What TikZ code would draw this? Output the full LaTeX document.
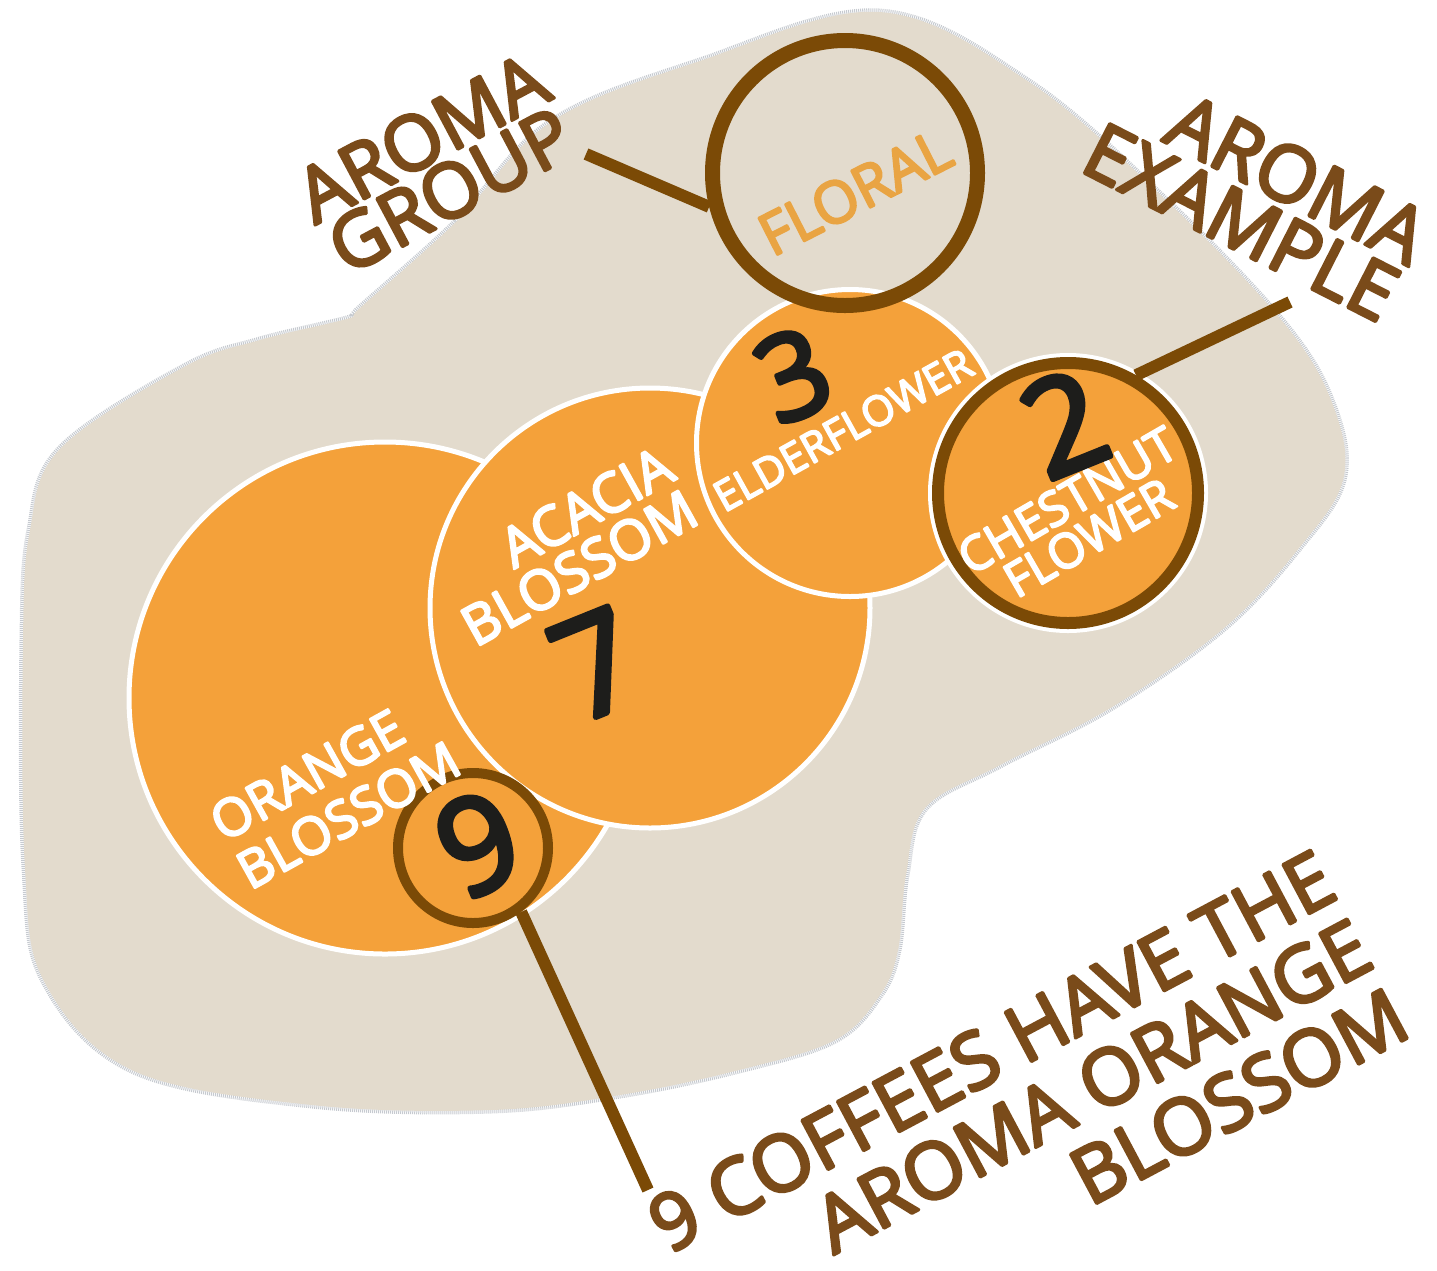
\documentclass[tikz,border=0pt]{standalone}
\usepackage{fontspec}
\setmainfont{Open Sans}[BoldFont = {Open Sans}, BoldFeatures = {FakeBold = 4}]
\usepackage{tikz}

\definecolor{sandbg}{HTML}{E3DBCD}
\definecolor{shadowgrey}{HTML}{C6CAD0}
\definecolor{blossom}{HTML}{F4A13A}
\definecolor{ringbrown}{HTML}{7B4A06}
\definecolor{labelbrown}{HTML}{7A4B1A}
\definecolor{floraltext}{HTML}{E9A443}
\definecolor{digitblack}{HTML}{1D1D1B}

\begin{document}
\begin{tikzpicture}[
        x = 1pt, y = -1pt, % one unit = one pixel of the reference
        line join = round
        ]

    \tikzset{
        sandblob/.style = {fill = sandbg, preaction = {draw = shadowgrey, line width = 7pt, dash pattern = on 1pt off 1pt}},
        bubble/.style = {circle, draw = white, line width = 5pt, fill = blossom, inner sep = 0pt},
        ring/.style = {circle, draw = ringbrown, line width = 14pt, inner sep = 0pt},
        leader/.style = {draw = ringbrown, line width = 12pt},
        caption/.style = {text = labelbrown, inner sep = 0pt},
        flowername/.style = {text = white, inner sep = 0pt},
        count/.style = {text = digitblack, inner sep = 0pt, rotate = 22}
        }

    \useasboundingbox (0,0) rectangle (1437,1270);

    % background patch
    \path[sandblob] plot[smooth cycle, tension = 0.6] coordinates {
        (360,308) (456,222) (551,122) (700,61) (879,12) (1029,82) (1170,204)
        (1287,327) (1334,408) (1343,480) (1299,548) (1224,628) (1112,707)
        (1000,765) (925,808) (906,875) (898,950) (880,995) (835,1040) (739,1070)
        (620,1095) (491,1110) (312,1105) (134,1071) (45,983) (25,868) (23,640)
        (30,530) (60,449) (184,367) (260,340) (350,318)};

    % aroma circles
    \node[bubble, minimum size = 512pt] (orange) at (385,698) {};
    \node[bubble, minimum size = 440pt] (acacia) at (650,608) {};
    \node[bubble, minimum size = 307pt] (elder) at (850,443) {};
    \node[ring, line width = 15pt, minimum size = 265pt] (floral) at (845,173) {};
    \node[ring, fill = blossom, line width = 12pt, minimum size = 260pt,
        preaction = {draw = white, line width = 20pt}] (chestnut) at (1068,493) {};
    \node[ring, fill = blossom, line width = 10pt, minimum size = 150pt] (nine) at (473,848) {};

    % leaders
    \coordinate (grouptip) at (586,154);
    \coordinate (exampletip) at (1290,302);
    \coordinate (ninetip) at (648,1190);
    \path[leader] (grouptip) -- (floral.194);
    \path[leader] (exampletip) -- (chestnut.60);
    \path[leader] (nine.307) -- (ninetip);

    % texts
    \node[caption, rotate = 28, align = center, font = \fontsize{76}{60}\selectfont\bfseries] (grouplabel) at (436,164) {AROMA\\GROUP};
    \node[caption, rotate = -27, align = right, font = \fontsize{78}{64}\selectfont\bfseries] (examplelabel) at (1256,193) {AROMA\\EXAMPLE};
    \node[caption, rotate = 28, align = right, font = \fontsize{78}{78}\selectfont\bfseries] (notelabel) at (1028,1120) {9 COFFEES HAVE THE\\AROMA ORANGE\\BLOSSOM};
    \node[text = floraltext, inner sep = 0pt, rotate = 27, font = \fontsize{58}{58}\selectfont\bfseries] (florallabel) at (855,192) {FLORAL};

    \node[flowername, rotate = 29, align = left, font = \fontsize{52}{55}\selectfont\bfseries] (orangelabel) at (335,791) {ORANGE\\BLOSSOM};
    \node[flowername, rotate = 29, align = right, font = \fontsize{55}{50}\selectfont\bfseries] (acacialabel) at (567,546) {ACACIA\\BLOSSOM};
    \node[flowername, rotate = 29, font = \fontsize{42}{42}\selectfont\bfseries] (elderlabel) at (843,430) {ELDERFLOWER};
    \node[flowername, rotate = 30, align = center, font = \fontsize{48}{43}\selectfont\bfseries] (chestnutlabel) at (1078,519) {CHESTNUT\\FLOWER};

    \node[count, font = \fontsize{118}{118}\selectfont\bfseries] (elderno) at (793,375) {3};
    \node[count, font = \fontsize{138}{138}\selectfont\bfseries] (acaciano) at (596,664) {7};
    \node[count, font = \fontsize{133}{133}\selectfont\bfseries] (chestnutno) at (1064,423) {2};
    \node[count, font = \fontsize{132}{132}\selectfont\bfseries] (orangeno) at (478,844) {9};

\end{tikzpicture}
\end{document}
